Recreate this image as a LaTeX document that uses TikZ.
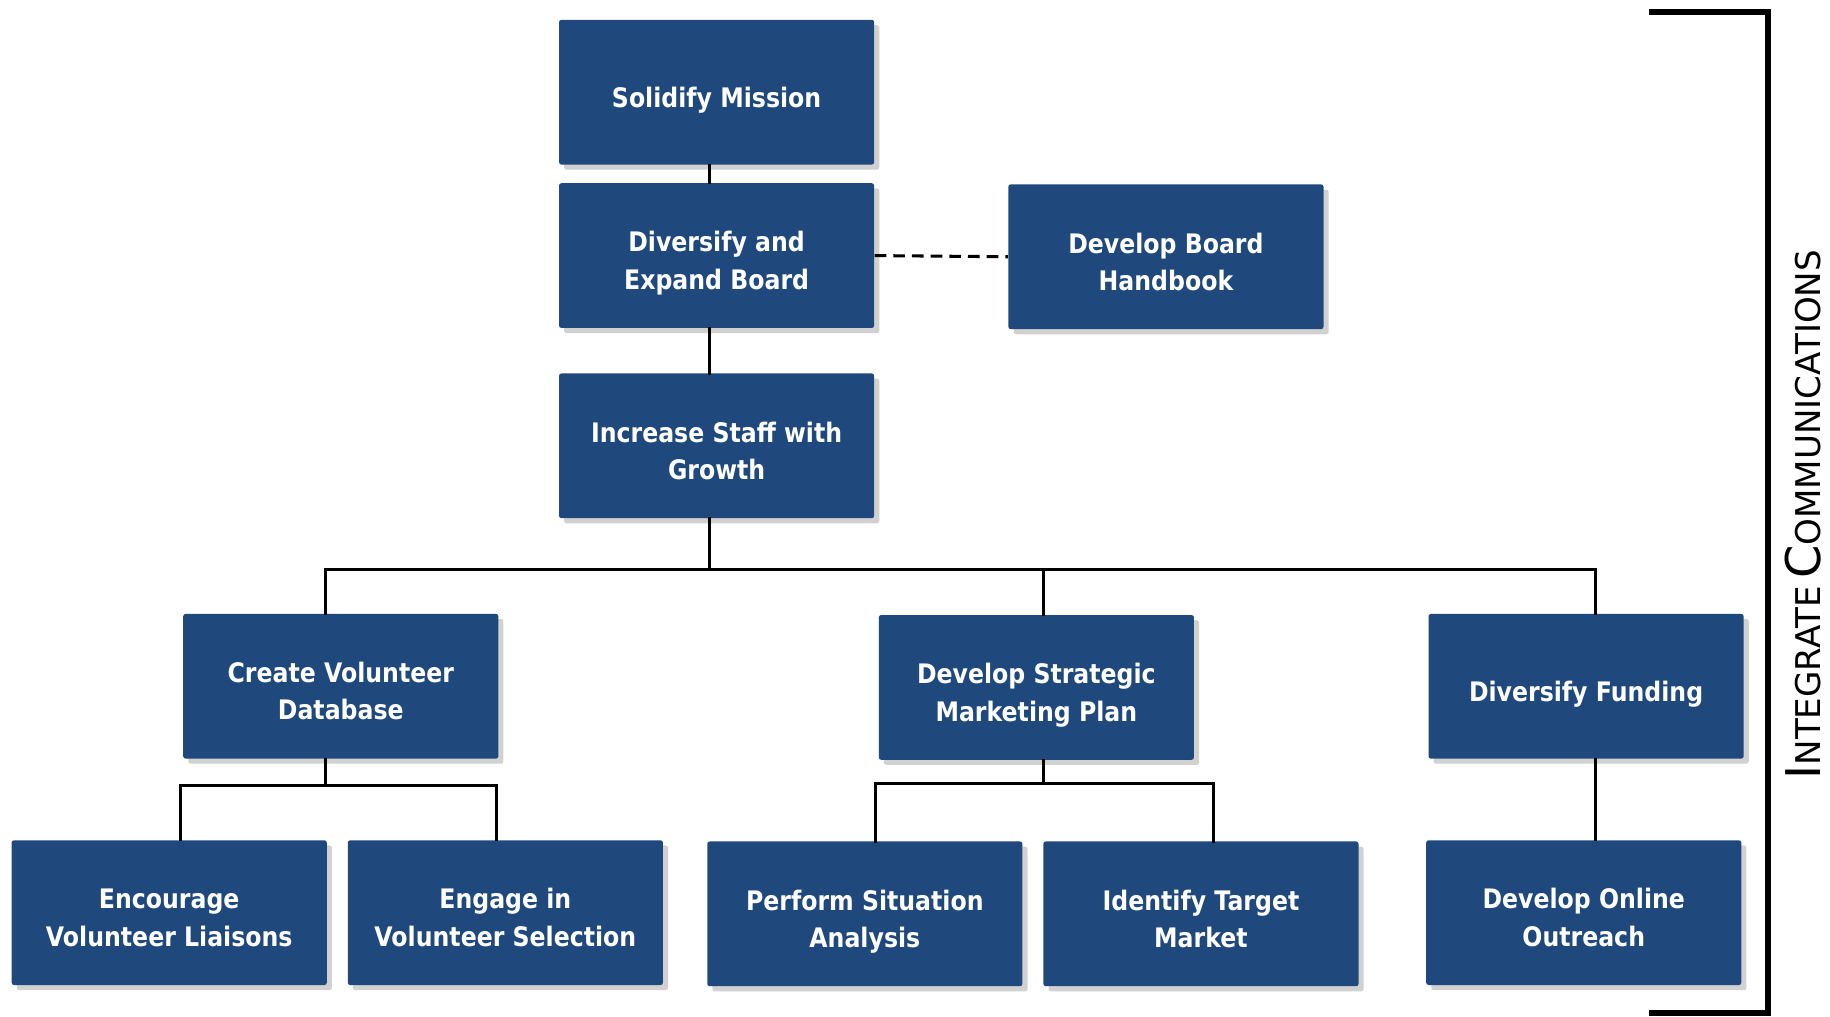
\documentclass[tikz,border=0pt]{standalone}
\usepackage{fontspec}
\setmainfont{DejaVu Sans}
\newfontfamily\boxfont{DejaVu Sans}[FakeStretch=0.88]
\newfontfamily\sidefont{DejaVu Sans}
\usetikzlibrary{shadows}
\definecolor{boxblue}{HTML}{1F497D}
\newcommand\bx[1]{\raisebox{-3.2pt}[\height][\depth]{\begin{tabular}{@{}c@{}}#1\end{tabular}}}
\begin{document}
\begin{tikzpicture}[x=0.5pt,y=-0.5pt,
  box/.style={fill=boxblue, rounded corners=1pt, minimum width=135pt, minimum height=62pt,
    text=white, font=\boxfont\bfseries\fontsize{11.5}{16}\selectfont, inner sep=0pt,
    drop shadow={opacity=0.3, shadow xshift=2.2pt, shadow yshift=-2.2pt, fill=black!60}},
  conn/.style={line width=1.3pt, line cap=rect},
  dconn/.style={line width=1.3pt, dash pattern=on 5pt off 3pt},
  brk/.style={line width=2.6pt}]
\useasboundingbox (0,0) rectangle (1568,871);

% junction coordinates
\coordinate (t0) at (608,0);
\coordinate (j0) at (608,488);
\coordinate (jA) at (279,488);
\coordinate (jB) at (894,488);
\coordinate (jC) at (1367,488);
\coordinate (k0) at (279,673);
\coordinate (kA) at (155,673);
\coordinate (kB) at (425,673);
\coordinate (m0) at (894,671);
\coordinate (mA) at (750,671);
\coordinate (mB) at (1040,671);

% boxes
\node[box] (sol)  at (614,79)   {\bx{Solidify Mission}};
\node[box] (div)  at (614,219)  {\bx{Diversify and\\Expand Board}};
\node[box] (hand) at (999,220)  {\bx{Develop Board\\Handbook}};
\node[box] (inc)  at (614,382)  {\bx{Increase Staff with\\Growth}};
\node[box] (cvd)  at (292,588)  {\bx{Create Volunteer\\Database}};
\node[box] (dsm)  at (888,589)  {\bx{Develop Strategic\\Marketing Plan}};
\node[box] (fund) at (1359,588) {\bx{Diversify Funding}};
\node[box] (enc)  at (145,782)  {\bx{Encourage\\Volunteer Liaisons}};
\node[box] (eng)  at (433,782)  {\bx{Engage in\\Volunteer Selection}};
\node[box] (psa)  at (741,783)  {\bx{Perform Situation\\Analysis}};
\node[box] (itm)  at (1029,783) {\bx{Identify Target\\Market}};
\node[box] (doo)  at (1357,782) {\bx{Develop Online\\Outreach}};

% connectors
\draw[conn] (sol.south -| t0) -- (div.north -| t0);
\draw[conn] (div.south -| t0) -- (inc.north -| t0);
\draw[conn] (inc.south -| j0) -- (j0);
\draw[conn] (jA) -- (jC);
\draw[conn] (jA) -- (cvd.north -| jA);
\draw[conn] (jB) -- (dsm.north -| jB);
\draw[conn] (jC) -- (fund.north -| jC);
\draw[conn] (cvd.south -| k0) -- (k0);
\draw[conn] (kA) -- (kB);
\draw[conn] (kA) -- (enc.north -| kA);
\draw[conn] (kB) -- (eng.north -| kB);
\draw[conn] (dsm.south -| m0) -- (m0);
\draw[conn] (mA) -- (mB);
\draw[conn] (mA) -- (psa.north -| mA);
\draw[conn] (mB) -- (itm.north -| mB);
\draw[conn] (fund.south -| jC) -- (doo.north -| jC);
\draw[dconn] (div.east) -- (hand.west);

% bracket
\draw[brk] (1413,10) -- (1515,10) -- (1515,868) -- (1413,868);

% side label
\node[rotate=90, inner sep=0pt] (lbl) at (1545,441)
  {\sidefont{\fontsize{20.5}{20}\selectfont I}{\fontsize{14.6}{14}\selectfont NTEGRATE}\hspace{0.3em}{\fontsize{20.5}{20}\selectfont C}{\fontsize{14.6}{14}\selectfont OMMUNICATIONS}};
\end{tikzpicture}
\end{document}
